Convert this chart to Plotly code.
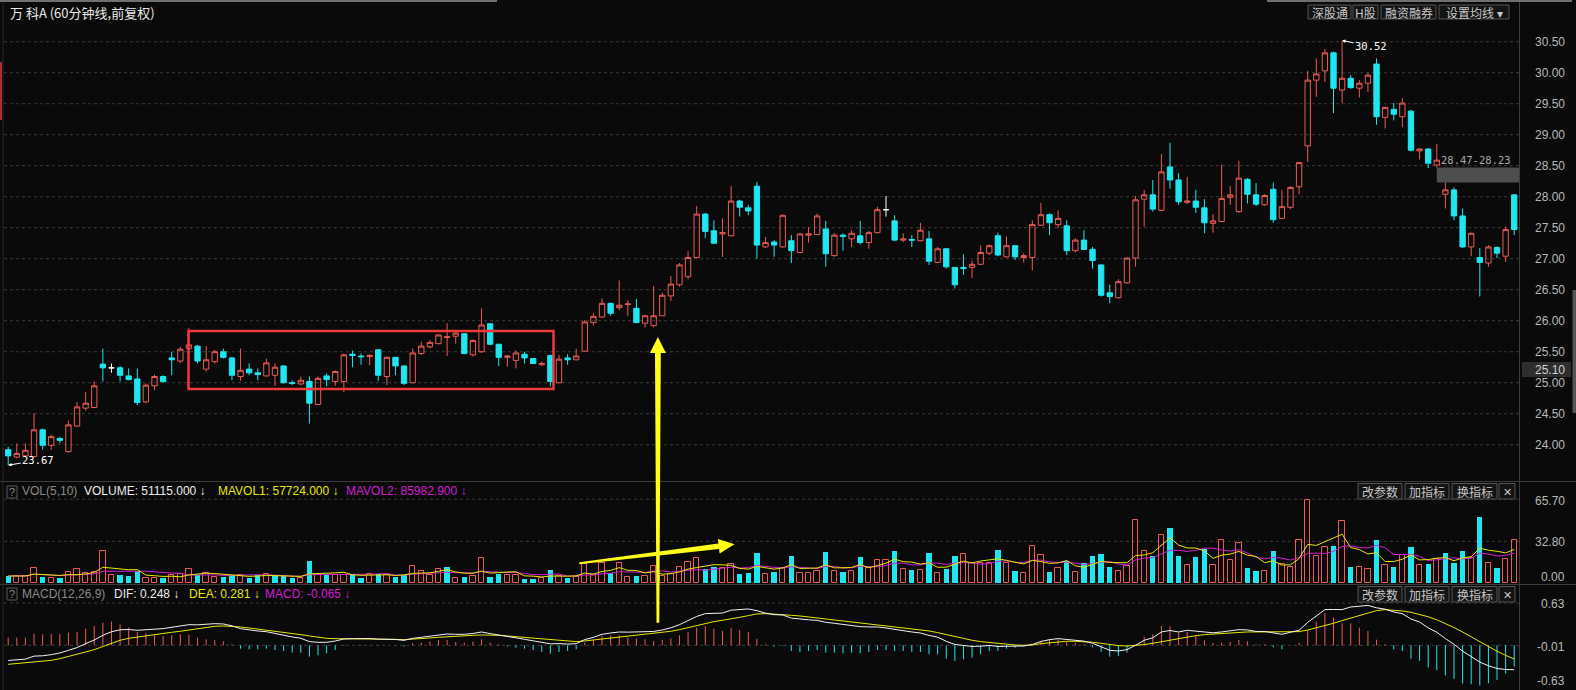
import plotly.graph_objects as go
import pandas as pd

# ---------------- data ----------------
opens = [
    23.92, 23.80, 23.82, 23.81, 24.24, 23.99, 24.10, 23.89, 24.30, 24.59,
    24.60, 25.30, 25.24, 25.24, 25.11, 25.06, 24.69, 24.95, 25.10, 25.40,
    25.35, 25.55, 25.59, 25.22, 25.34, 25.50, 25.40, 25.10, 25.22, 25.16,
    25.11, 25.12, 25.27, 25.00, 24.98, 25.02, 24.65, 25.11, 25.02, 25.02,
    25.46, 25.43, 25.42, 25.53, 25.10, 25.41, 25.27, 25.00, 25.47, 25.58,
    25.63, 25.73, 25.75, 25.79, 25.45, 25.50, 25.95, 25.62, 25.41, 25.36,
    25.46, 25.39, 25.29, 25.44, 25.00, 25.40, 25.37, 25.51, 25.97, 26.06,
    26.28, 26.21, 26.26, 26.20, 25.96, 25.92, 26.08, 26.40, 26.58, 26.71,
    27.02, 27.72, 27.45, 27.40, 27.37, 27.93, 27.82, 28.17, 27.19, 27.27,
    27.19, 27.29, 27.10, 27.38, 27.39, 27.48, 27.05, 27.38, 27.32, 27.37,
    27.26, 27.42, 27.79, 27.61, 27.30, 27.31, 27.29, 27.32, 26.94, 27.16,
    26.86, 26.86, 26.86, 26.91, 27.09, 27.37, 27.03, 27.21, 27.02, 27.02,
    27.54, 27.71, 27.55, 27.53, 27.13, 27.30, 27.15, 26.90, 26.45, 26.37,
    26.61, 27.01, 27.96, 28.03, 27.78, 28.48, 28.27, 27.91, 27.93, 27.82,
    27.57, 27.60, 27.99, 27.76, 28.28, 28.03, 27.87, 28.12, 27.65, 27.83,
    28.16, 28.82, 29.88, 30.03, 30.32, 29.72, 29.91, 29.75, 29.83, 30.14,
    29.28, 29.41, 29.29, 29.38, 28.74, 28.77, 28.51, 28.04, 28.11, 27.69,
    27.19, 27.02, 26.93, 27.18, 27.04, 28.03]
highs = [
    23.97, 24.02, 24.02, 24.51, 24.26, 24.16, 24.13, 24.39, 24.69, 24.85,
    25.02, 25.55, 25.31, 25.27, 25.23, 25.23, 24.99, 25.13, 25.12, 25.50,
    25.58, 25.88, 25.61, 25.59, 25.53, 25.55, 25.42, 25.55, 25.31, 25.23,
    25.39, 25.31, 25.28, 25.04, 25.10, 25.10, 25.10, 25.15, 25.20, 25.47,
    25.52, 25.47, 25.46, 25.54, 25.42, 25.41, 25.28, 25.55, 25.66, 25.69,
    25.78, 25.96, 25.85, 25.80, 25.70, 26.20, 25.96, 25.63, 25.45, 25.52,
    25.50, 25.40, 25.34, 25.45, 25.45, 25.46, 25.55, 26.01, 26.12, 26.36,
    26.29, 26.65, 26.33, 26.35, 26.09, 26.56, 26.45, 26.72, 26.93, 27.12,
    27.85, 27.74, 27.62, 27.65, 28.17, 27.95, 27.87, 28.24, 27.35, 27.30,
    27.71, 27.38, 27.41, 27.51, 27.73, 27.61, 27.41, 27.41, 27.46, 27.61,
    27.45, 27.84, 28.01, 27.70, 27.41, 27.38, 27.58, 27.45, 27.19, 27.17,
    26.87, 27.07, 26.97, 27.22, 27.23, 27.42, 27.36, 27.21, 27.09, 27.62,
    27.90, 27.73, 27.78, 27.62, 27.33, 27.46, 27.19, 26.91, 26.58, 26.67,
    27.02, 28.01, 28.11, 28.27, 28.69, 28.87, 28.38, 28.32, 28.11, 27.96,
    27.72, 28.52, 28.17, 28.58, 28.30, 28.22, 28.04, 28.23, 28.11, 28.17,
    28.56, 30.03, 30.23, 30.38, 30.34, 30.52, 29.96, 29.88, 30.00, 30.23,
    29.45, 29.51, 29.59, 29.40, 28.78, 28.78, 28.85, 28.23, 28.15, 27.81,
    27.42, 27.17, 27.22, 27.20, 27.52, 28.04]
lows = [
    23.67, 23.78, 23.81, 23.80, 23.92, 23.92, 24.02, 23.87, 24.29, 24.55,
    24.59, 25.02, 25.16, 25.02, 25.04, 24.64, 24.68, 24.88, 25.00, 25.12,
    25.32, 25.55, 25.31, 25.18, 25.31, 25.39, 25.04, 25.03, 25.12, 25.04,
    25.10, 24.95, 24.99, 24.96, 24.96, 24.34, 24.64, 24.94, 24.95, 24.85,
    25.25, 25.29, 25.28, 25.03, 24.96, 25.12, 24.96, 24.99, 25.45, 25.55,
    25.62, 25.43, 25.63, 25.46, 25.42, 25.48, 25.61, 25.27, 25.26, 25.23,
    25.31, 25.30, 25.27, 24.94, 24.99, 25.29, 25.36, 25.50, 25.92, 26.05,
    26.08, 26.17, 26.08, 25.96, 25.89, 25.89, 26.08, 26.32, 26.55, 26.67,
    27.01, 27.33, 27.24, 27.03, 27.36, 27.68, 27.70, 27.00, 27.17, 27.03,
    27.18, 26.93, 27.09, 27.26, 27.38, 26.87, 27.03, 27.13, 27.19, 27.23,
    27.16, 27.41, 27.68, 27.28, 27.27, 27.19, 27.28, 26.90, 26.93, 26.84,
    26.52, 26.74, 26.69, 26.90, 27.06, 27.04, 27.02, 26.98, 26.94, 26.81,
    27.53, 27.38, 27.49, 27.06, 27.10, 27.14, 26.84, 26.39, 26.28, 26.36,
    26.60, 26.87, 27.52, 27.76, 27.77, 28.13, 27.87, 27.88, 27.74, 27.41,
    27.42, 27.59, 27.87, 27.74, 27.89, 27.85, 27.85, 27.58, 27.64, 27.80,
    28.04, 28.56, 29.61, 29.85, 29.35, 29.51, 29.74, 29.60, 29.69, 29.16,
    29.10, 29.23, 29.12, 28.73, 28.60, 28.46, 28.47, 27.81, 27.62, 27.17,
    27.04, 26.39, 26.87, 27.01, 26.95, 27.38]
closes = [
    23.82, 23.86, 23.91, 24.24, 23.99, 24.13, 24.07, 24.32, 24.61, 24.67,
    24.95, 25.24, 25.24, 25.12, 25.05, 24.68, 24.96, 25.10, 25.02, 25.37,
    25.54, 25.61, 25.35, 25.37, 25.50, 25.41, 25.12, 25.20, 25.16, 25.13,
    25.32, 25.25, 25.00, 24.99, 25.04, 24.67, 25.07, 25.05, 25.18, 25.45,
    25.44, 25.42, 25.44, 25.12, 25.41, 25.27, 24.99, 25.48, 25.59, 25.65,
    25.77, 25.74, 25.80, 25.47, 25.68, 25.93, 25.62, 25.41, 25.43, 25.48,
    25.40, 25.31, 25.31, 25.02, 25.38, 25.37, 25.43, 25.98, 26.07, 26.28,
    26.12, 26.25, 26.27, 25.97, 26.08, 26.08, 26.41, 26.59, 26.90, 27.02,
    27.72, 27.44, 27.25, 27.42, 27.93, 27.83, 27.77, 27.22, 27.26, 27.22,
    27.70, 27.13, 27.40, 27.40, 27.69, 27.08, 27.38, 27.36, 27.41, 27.26,
    27.42, 27.79, 27.79, 27.30, 27.32, 27.30, 27.46, 26.96, 27.16, 26.87,
    26.58, 26.84, 26.91, 27.10, 27.21, 27.06, 27.21, 27.03, 27.05, 27.55,
    27.71, 27.58, 27.65, 27.13, 27.30, 27.15, 26.97, 26.41, 26.39, 26.63,
    27.01, 27.95, 28.03, 27.80, 28.40, 28.27, 27.92, 27.93, 27.83, 27.58,
    27.61, 27.97, 28.03, 28.30, 28.04, 27.88, 28.02, 27.63, 27.84, 28.15,
    28.55, 29.88, 29.98, 30.32, 29.75, 29.91, 29.76, 29.83, 29.96, 29.29,
    29.44, 29.33, 29.51, 28.75, 28.77, 28.54, 28.59, 28.11, 27.69, 27.19,
    27.41, 26.94, 27.19, 27.09, 27.47, 27.47]
volumes = [
    5.7, 5.7, 5.7, 11.7, 5.0, 3.9, 4.4, 9.1, 11.0, 8.3,
    9.1, 25.3, 6.3, 6.8, 5.5, 9.6, 3.9, 3.9, 3.9, 6.3,
    7.6, 11.0, 6.3, 8.3, 5.0, 5.0, 6.3, 6.3, 4.4, 6.3,
    7.6, 5.5, 5.5, 3.9, 4.4, 17.4, 6.3, 6.5, 6.3, 6.5,
    7.5, 4.4, 7.5, 7.5, 6.3, 5.0, 6.5, 13.5, 9.6, 6.3,
    11.0, 13.0, 4.4, 5.0, 5.7, 19.5, 5.0, 7.5, 6.5, 6.5,
    3.7, 3.7, 4.4, 10.1, 5.7, 3.9, 5.0, 15.3, 6.3, 15.6,
    8.3, 15.6, 5.0, 5.7, 5.7, 13.5, 5.7, 7.0, 12.7, 16.7,
    19.6, 11.0, 12.7, 12.2, 14.8, 7.5, 8.3, 23.4, 7.0, 9.1,
    12.2, 21.4, 8.3, 8.3, 9.6, 24.5, 9.6, 8.8, 9.6, 20.6,
    12.2, 18.0, 18.2, 25.3, 11.0, 10.2, 10.2, 23.4, 7.8, 11.5,
    21.4, 22.6, 16.2, 15.6, 15.6, 26.0, 16.2, 9.6, 8.3, 29.2,
    21.9, 8.8, 11.7, 17.4, 8.8, 15.6, 21.4, 22.7, 13.0, 9.6,
    13.5, 49.5, 25.3, 21.4, 37.8, 43.5, 21.4, 14.3, 20.6, 27.1,
    14.3, 33.9, 18.2, 31.3, 12.2, 9.4, 9.6, 25.3, 14.9, 13.0,
    33.9, 65.1, 21.1, 28.1, 28.9, 48.7, 13.0, 13.0, 11.0, 33.9,
    14.3, 13.0, 21.9, 28.1, 14.3, 15.4, 18.8, 23.4, 16.2, 25.3,
    20.1, 52.1, 15.6, 12.2, 18.8, 33.9]
dea = [
    -0.283, -0.273, -0.263, -0.248, -0.238, -0.224, -0.199, -0.169, -0.134, -0.099,
    -0.065, -0.020, 0.025, 0.075, 0.104, 0.124, 0.144, 0.159, 0.179, 0.194,
    0.209, 0.228, 0.248, 0.268, 0.283, 0.288, 0.283, 0.273, 0.258, 0.243,
    0.228, 0.209, 0.194, 0.179, 0.159, 0.139, 0.119, 0.104, 0.099, 0.099,
    0.099, 0.099, 0.099, 0.094, 0.094, 0.089, 0.084, 0.089, 0.099, 0.109,
    0.119, 0.129, 0.139, 0.144, 0.149, 0.154, 0.154, 0.149, 0.139, 0.129,
    0.114, 0.104, 0.094, 0.084, 0.075, 0.060, 0.055, 0.065, 0.079, 0.094,
    0.109, 0.124, 0.139, 0.149, 0.164, 0.174, 0.189, 0.209, 0.233, 0.263,
    0.298, 0.328, 0.353, 0.373, 0.392, 0.417, 0.442, 0.467, 0.472, 0.467,
    0.457, 0.447, 0.437, 0.422, 0.407, 0.397, 0.382, 0.368, 0.353, 0.338,
    0.323, 0.308, 0.293, 0.278, 0.263, 0.248, 0.233, 0.214, 0.189, 0.159,
    0.129, 0.099, 0.075, 0.055, 0.040, 0.025, 0.015, 0.005, 0.000, 0.005,
    0.025, 0.040, 0.055, 0.060, 0.060, 0.055, 0.045, 0.030, 0.010, -0.005,
    -0.010, -0.005, 0.010, 0.030, 0.055, 0.079, 0.104, 0.124, 0.144, 0.159,
    0.169, 0.179, 0.189, 0.194, 0.199, 0.199, 0.199, 0.199, 0.194, 0.194,
    0.204, 0.228, 0.258, 0.293, 0.328, 0.368, 0.407, 0.447, 0.487, 0.517,
    0.531, 0.527, 0.512, 0.492, 0.462, 0.425, 0.380, 0.325, 0.265, 0.198,
    0.125, 0.050, -0.022, -0.088, -0.150, -0.205]
macd_hist = [
    0.114, 0.114, 0.114, 0.174, 0.164, 0.169, 0.169, 0.189, 0.199, 0.248,
    0.288, 0.338, 0.353, 0.313, 0.263, 0.199, 0.179, 0.149, 0.139, 0.149,
    0.164, 0.159, 0.114, 0.089, 0.079, 0.060, 0.015, -0.050, -0.060, -0.060,
    -0.050, -0.070, -0.084, -0.109, -0.109, -0.169, -0.149, -0.119, -0.070, -0.010,
    0.000, 0.005, 0.005, -0.005, 0.000, -0.005, -0.020, 0.030, 0.040, 0.055,
    0.079, 0.079, 0.050, 0.040, 0.055, 0.089, 0.040, 0.015, -0.020, -0.035,
    -0.050, -0.070, -0.099, -0.124, -0.099, -0.084, -0.060, 0.040, 0.079, 0.139,
    0.149, 0.149, 0.114, 0.099, 0.089, 0.065, 0.079, 0.104, 0.149, 0.199,
    0.263, 0.288, 0.248, 0.214, 0.263, 0.228, 0.199, 0.099, 0.015, -0.020,
    -0.010, -0.084, -0.099, -0.084, -0.070, -0.109, -0.109, -0.119, -0.109, -0.119,
    -0.099, -0.070, -0.070, -0.084, -0.084, -0.099, -0.099, -0.134, -0.134, -0.199,
    -0.233, -0.209, -0.184, -0.134, -0.084, -0.084, -0.050, -0.035, -0.020, 0.015,
    0.065, 0.089, 0.089, 0.050, 0.040, 0.015, -0.030, -0.099, -0.169, -0.159,
    -0.109, 0.010, 0.129, 0.164, 0.288, 0.283, 0.189, 0.199, 0.139, 0.075,
    0.035, 0.040, 0.050, 0.079, 0.060, 0.015, 0.015, -0.030, -0.060, 0.000,
    0.040, 0.228, 0.353, 0.477, 0.412, 0.328, 0.328, 0.263, 0.214, 0.084,
    0.015, -0.060, -0.084, -0.200, -0.230, -0.330, -0.370, -0.450, -0.500, -0.570,
    -0.580, -0.600, -0.565, -0.515, -0.420, -0.318]

price_ticks = [30.50, 30.00, 29.50, 29.00, 28.50, 28.00, 27.50, 27.00,
               26.50, 26.00, 25.50, 25.00, 24.50, 24.00]
vol_ticks = [65.70, 32.80, 0.00]
macd_ticks = [0.63, -0.01, -0.63]
title_text = "万 科A (60分钟线,前复权)"
top_buttons = ["深股通", "H股", "融资融券", "设置均线 ▾"]
panel_buttons = ["改参数", "加指标", "换指标", "✕"]
high_label = (155, 30.52)
low_label = (0, 23.67)
gap_band = (28.23, 28.47)
cursor_price = "25.10"

n = len(closes)
for arr in (opens, highs, lows, volumes, dea, macd_hist):
    if len(arr) != n:
        raise ValueError("length mismatch %d vs %d" % (len(arr), n))

# ---------------- geometry / style ----------------
W, H = 1576, 690
PW = 1520                      # plot area width (right axis strip follows)
BG = '#0a0a0a'
RED = '#ec5b55'
CYAN = '#1fe6f0'
YEL = '#e8e800'
MAG = '#d21ed2'
GRID = '#3b3b3b'
LBL = '#b8b8b8'
SEP = '#3c3c3c'
ARIAL = 'Arial, Liberation Sans, sans-serif'
CJK = 'Noto Sans CJK SC'
MONO = 'DejaVu Sans Mono'


def px(x):
    return x / PW


def py(y):
    return (H - y) / H


x = list(range(n))
XR = [-0.953, 175.67]


def sel(arr, mask):
    return [a if m else None for a, m in zip(arr, mask)]


up = [c > o for o, c in zip(opens, closes)]
dn = [c < o for o, c in zip(opens, closes)]
flat = [c == o for o, c in zip(opens, closes)]
prev_close = [opens[0]] + closes[:-1]
vol_up = [c >= p for p, c in zip(prev_close, closes)]
vol_dn = [not v for v in vol_up]

ma5 = pd.Series(volumes).rolling(5, min_periods=1).mean().tolist()
ma10 = pd.Series(volumes).rolling(10, min_periods=1).mean().tolist()
dif = [d + h / 2 for d, h in zip(dea, macd_hist)]

fig = go.Figure()


def candle(mask, line_col, fill_col):
    return go.Candlestick(
        x=x, open=sel(opens, mask), high=sel(highs, mask), low=sel(lows, mask),
        close=sel(closes, mask), whiskerwidth=0,
        increasing=dict(line=dict(color=line_col, width=1), fillcolor=fill_col),
        decreasing=dict(line=dict(color=line_col, width=1), fillcolor=fill_col),
        xaxis='x', yaxis='y', hoverinfo='skip', showlegend=False)


fig.add_trace(candle(up, RED, 'rgba(0,0,0,0)'))
fig.add_trace(candle(dn, CYAN, CYAN))
fig.add_trace(candle(flat, '#ffffff', '#ffffff'))

# volume
fig.add_trace(go.Bar(x=x, y=sel(volumes, vol_up), width=0.62,
                     marker=dict(color='rgba(0,0,0,0)', line=dict(color=RED, width=1)),
                     xaxis='x2', yaxis='y2', hoverinfo='skip', showlegend=False))
fig.add_trace(go.Bar(x=x, y=sel(volumes, vol_dn), width=0.62,
                     marker=dict(color=CYAN, line=dict(width=0)),
                     xaxis='x2', yaxis='y2', hoverinfo='skip', showlegend=False))
fig.add_trace(go.Scatter(x=x, y=ma10, mode='lines', line=dict(color=MAG, width=1),
                         xaxis='x2', yaxis='y2', hoverinfo='skip', showlegend=False))
fig.add_trace(go.Scatter(x=x, y=ma5, mode='lines', line=dict(color=YEL, width=1),
                         xaxis='x2', yaxis='y2', hoverinfo='skip', showlegend=False))


# MACD histogram as thin sticks
def sticks(mask):
    xs, ys = [], []
    for i, (h, m) in enumerate(zip(macd_hist, mask)):
        if m:
            xs += [i, i, None]
            ys += [0, h, None]
    return xs, ys


hx, hy = sticks([h >= 0 for h in macd_hist])
fig.add_trace(go.Scatter(x=hx, y=hy, mode='lines', line=dict(color=RED, width=1),
                         xaxis='x3', yaxis='y3', hoverinfo='skip', showlegend=False))
hx, hy = sticks([h < 0 for h in macd_hist])
fig.add_trace(go.Scatter(x=hx, y=hy, mode='lines', line=dict(color=CYAN, width=1),
                         xaxis='x3', yaxis='y3', hoverinfo='skip', showlegend=False))
fig.add_trace(go.Scatter(x=x, y=dea, mode='lines', line=dict(color=YEL, width=1),
                         xaxis='x3', yaxis='y3', hoverinfo='skip', showlegend=False))
fig.add_trace(go.Scatter(x=x, y=dif, mode='lines', line=dict(color='#f2f2f2', width=1),
                         xaxis='x3', yaxis='y3', hoverinfo='skip', showlegend=False))

shapes = []
annotations = []

# grid lines
for t in price_ticks:
    shapes.append(dict(type='line', xref='paper', yref='y', x0=px(4), x1=1, y0=t, y1=t,
                       line=dict(color=GRID, width=1, dash='dot'), layer='below'))
for t in vol_ticks[:2]:
    shapes.append(dict(type='line', xref='paper', yref='y2', x0=px(4), x1=1, y0=t, y1=t,
                       line=dict(color=GRID, width=1, dash='dot'), layer='below'))
for t in (macd_ticks[0], 0):
    shapes.append(dict(type='line', xref='paper', yref='y3', x0=px(4), x1=1, y0=t, y1=t,
                       line=dict(color=GRID, width=1, dash='dot'), layer='below'))

# right axis labels
for t in price_ticks:
    annotations.append(dict(xref='paper', yref='y', x=px(1567), y=t, text='%.2f' % t,
                            showarrow=False, xanchor='right', yanchor='middle',
                            font=dict(family=ARIAL, size=12, color=LBL)))
for t, sh in zip(vol_ticks, (-2, -1, 6)):
    annotations.append(dict(xref='paper', yref='y2', x=px(1567), y=t, text='%.2f' % t,
                            showarrow=False, xanchor='right', yanchor='middle', yshift=sh,
                            font=dict(family=ARIAL, size=12, color=LBL)))
for t, sh in zip(macd_ticks, (-1, -1, 7)):
    annotations.append(dict(xref='paper', yref='y3', x=px(1567), y=t, text='%.2f' % t,
                            showarrow=False, xanchor='right', yanchor='middle', yshift=sh,
                            font=dict(family=ARIAL, size=12, color=LBL)))

# separators / frame bits
shapes += [
    dict(type='line', xref='paper', yref='paper', x0=px(0), x1=px(W), y0=py(481.5), y1=py(481.5),
         line=dict(color=SEP, width=1)),
    dict(type='line', xref='paper', yref='paper', x0=px(0), x1=px(W), y0=py(584.5), y1=py(584.5),
         line=dict(color=SEP, width=1)),
    dict(type='line', xref='paper', yref='paper', x0=px(1519.5), x1=px(1519.5), y0=py(2), y1=py(H),
         line=dict(color=SEP, width=1)),
    dict(type='line', xref='paper', yref='paper', x0=px(3), x1=px(3), y0=py(2), y1=py(H),
         line=dict(color='#262626', width=1)),
    dict(type='line', xref='paper', yref='paper', x0=px(1), x1=px(1), y0=py(62), y1=py(120),
         line=dict(color='#a83030', width=2)),
    dict(type='line', xref='paper', yref='paper', x0=px(0), x1=px(497), y0=py(1), y1=py(1),
         line=dict(color='#707070', width=2)),
    dict(type='line', xref='paper', yref='paper', x0=px(1267), x1=px(1572), y0=py(1), y1=py(1),
         line=dict(color='#707070', width=2)),
    dict(type='rect', xref='paper', yref='paper', x0=px(1572.5), x1=px(1576), y0=py(413), y1=py(290),
         line=dict(width=0), fillcolor='#555555'),
]

# title
annotations.append(dict(xref='paper', yref='paper', x=px(8), y=py(12), text=title_text,
                        showarrow=False, xanchor='left', yanchor='middle',
                        font=dict(family=CJK, size=13, color='#e8e8e8')))


def button(x0, x1, y0, y1, text, size=12):
    shapes.append(dict(type='rect', xref='paper', yref='paper', x0=px(x0), x1=px(x1),
                       y0=py(y1), y1=py(y0), line=dict(color='#555555', width=1),
                       fillcolor='#141414', layer='above'))
    annotations.append(dict(xref='paper', yref='paper', x=px((x0 + x1) / 2), y=py((y0 + y1) / 2),
                            text=text, showarrow=False, xanchor='center', yanchor='middle',
                            font=dict(family=CJK, size=size, color='#c8c8c8')))


for (a, b), t in zip([(1308, 1351), (1353, 1378), (1381, 1436), (1439, 1509)], top_buttons):
    button(a, b, 5, 19, t)
for ytop, ybot in ((483.5, 499), (586.5, 602)):
    for (a, b), t in zip([(1358, 1402), (1405, 1449), (1452, 1497), (1499, 1515)], panel_buttons):
        button(a, b, ytop, ybot, t, size=12 if t != "✕" else 11)


def qbox(yc):
    shapes.append(dict(type='rect', xref='paper', yref='paper', x0=px(7), x1=px(17),
                       y0=py(yc + 6), y1=py(yc - 6), line=dict(color='#5a5a5a', width=1),
                       fillcolor='rgba(0,0,0,0)'))
    annotations.append(dict(xref='paper', yref='paper', x=px(12), y=py(yc), text='?',
                            showarrow=False, xanchor='center', yanchor='middle',
                            font=dict(family=ARIAL, size=11, color='#8a8a8a')))


def htext(xl, yc, text, color):
    annotations.append(dict(xref='paper', yref='paper', x=px(xl), y=py(yc), text=text,
                            showarrow=False, xanchor='left', yanchor='middle',
                            font=dict(family=ARIAL, size=12, color=color)))


qbox(492)
htext(20, 491, 'VOL(5,10)', '#8a8a8a')
htext(82, 491, 'VOLUME: 51115.000 ↓', '#ececec')
htext(216, 491, 'MAVOL1: 57724.000 ↓', YEL)
htext(344, 491, 'MAVOL2: 85982.900 ↓', MAG)
qbox(594)
htext(20, 593.5, 'MACD(12,26,9)', '#8a8a8a')
htext(112, 593.5, 'DIF: 0.248 ↓', '#ececec')
htext(187, 593.5, 'DEA: 0.281 ↓', YEL)
htext(263, 593.5, 'MACD: -0.065 ↓', MAG)

# high / low markers
annotations.append(dict(xref='x', yref='y', x=high_label[0], y=high_label[1], text='%.2f' % high_label[1],
                        showarrow=True, arrowhead=2, arrowsize=0.7, arrowwidth=1, arrowcolor='#ffffff',
                        ax=29, ay=6, font=dict(family=MONO, size=10.5, color='#ffffff')))
annotations.append(dict(xref='x', yref='y', x=low_label[0], y=low_label[1], text='%.2f' % low_label[1],
                        showarrow=True, arrowhead=2, arrowsize=0.7, arrowwidth=1, arrowcolor='#ffffff',
                        ax=30, ay=-5, font=dict(family=MONO, size=10.5, color='#ffffff')))

# gap band
shapes.append(dict(type='rect', xref='x', yref='y', x0=166, x1=XR[1], y0=gap_band[0], y1=gap_band[1],
                   line=dict(width=0), fillcolor='#4e4e4e', layer='below'))
annotations.append(dict(xref='x', yref='y', x=166, y=gap_band[1],
                        text='%.2f-%.2f' % (gap_band[1], gap_band[0]), showarrow=False,
                        xanchor='left', yanchor='bottom', xshift=2, yshift=0,
                        font=dict(family=MONO, size=10.5, color='#a8a8a8')))

# cursor price box on the right axis
shapes.append(dict(type='rect', xref='paper', yref='paper', x0=px(1522), x1=px(1571),
                   y0=py(377), y1=py(362), line=dict(width=0), fillcolor='#2e2e2e'))
annotations.append(dict(xref='paper', yref='paper', x=px(1567), y=py(369.5), text=cursor_price,
                        showarrow=False, xanchor='right', yanchor='middle',
                        font=dict(family=ARIAL, size=12, color='#d0d0d0')))

# red rectangle highlight
shapes.append(dict(type='rect', xref='paper', yref='paper', x0=px(188.5), x1=px(553.5),
                   y0=py(389), y1=py(331), line=dict(color='#ee3a3a', width=2.5),
                   fillcolor='rgba(0,0,0,0)', layer='above'))


# yellow hand-drawn arrows
def arrow_path(x0, y0, x1, y1, w0, w1, hl, hw):
    import math
    dx, dy = x1 - x0, y1 - y0
    L = math.hypot(dx, dy)
    ux, uy = dx / L, dy / L
    nx, ny = -uy, ux
    bx, by = x1 - hl * ux, y1 - hl * uy
    pts = [(x0 + w0 * nx, y0 + w0 * ny), (bx + w1 * nx, by + w1 * ny), (bx + hw * nx, by + hw * ny),
           (x1, y1), (bx - hw * nx, by - hw * ny), (bx - w1 * nx, by - w1 * ny),
           (x0 - w0 * nx, y0 - w0 * ny)]
    return 'M ' + ' L '.join('%.5f,%.5f' % (px(a), py(b)) for a, b in pts) + ' Z'


shapes.append(dict(type='path', xref='paper', yref='paper',
                   path=arrow_path(657.9, 622.7, 657.9, 337.0, 1.4, 2.9, 16, 8),
                   fillcolor='#ffff1a', line=dict(width=0), layer='above'))
shapes.append(dict(type='path', xref='paper', yref='paper',
                   path=arrow_path(579.3, 563.2, 734.6, 544.3, 1.0, 2.8, 16, 7.3),
                   fillcolor='#ffff1a', line=dict(width=0), layer='above'))

axis_off = dict(visible=False, showgrid=False, zeroline=False, range=XR, fixedrange=True)
fig.update_layout(
    width=W, height=H,
    margin=dict(l=0, r=W - PW, t=0, b=0, pad=0),
    paper_bgcolor=BG, plot_bgcolor=BG,
    showlegend=False, hovermode=False,
    barmode='overlay', bargap=0,
    boxgap=0.38, boxgroupgap=0,
    xaxis=dict(axis_off, anchor='y', domain=[0, 1], rangeslider=dict(visible=False)),
    xaxis2=dict(axis_off, anchor='y2', domain=[0, 1]),
    xaxis3=dict(axis_off, anchor='y3', domain=[0, 1]),
    yaxis=dict(domain=[py(480), py(20)], range=[23.431, 30.85], visible=False, showgrid=False,
               zeroline=False, fixedrange=True),
    yaxis2=dict(domain=[py(583.3), py(482)], range=[0, 79.2], visible=False, showgrid=False,
                zeroline=False, fixedrange=True),
    yaxis3=dict(domain=[0, py(586)], range=[-0.666, 0.8836], visible=False, showgrid=False,
                zeroline=False, fixedrange=True),
    shapes=shapes, annotations=annotations,
)

fig.write_html("out.html", config={'displayModeBar': False},
               post_script="document.body.style.margin='0px';document.body.style.overflow='hidden';"
                           "document.body.style.background='#0a0a0a';")
